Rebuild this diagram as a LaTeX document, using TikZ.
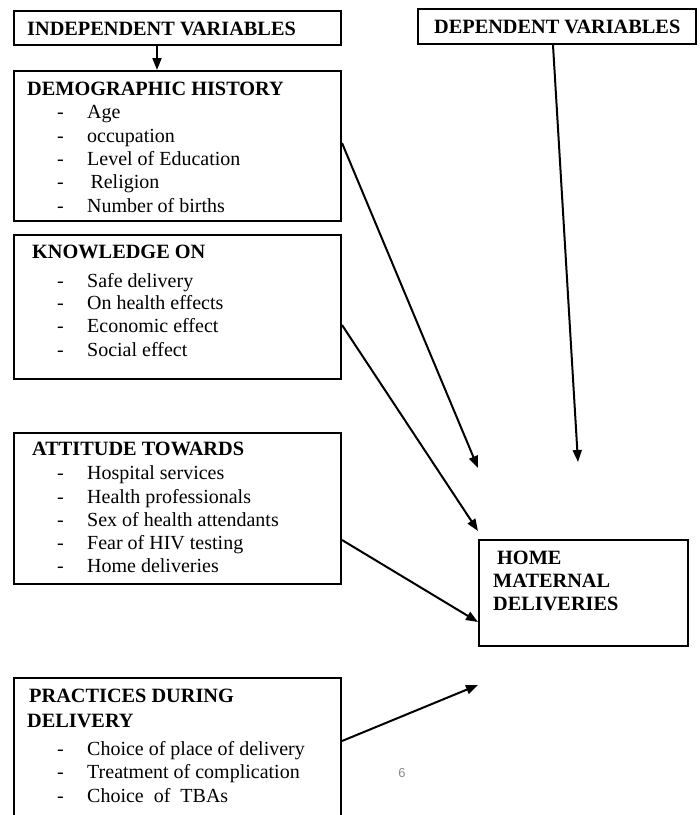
\documentclass[tikz,border=0pt]{standalone}
\usepackage{fontspec}
\setmainfont{Liberation Serif}
\newfontfamily\pnfont{Liberation Sans}
\usetikzlibrary{arrows.meta,calc}
\begin{document}
\begin{tikzpicture}[x=1pt,y=-1pt,
  box/.style={draw, line width=2pt, inner sep=0pt, anchor=north west},
  head/.style={anchor=base west, inner sep=0pt, font=\fontsize{20.3}{24}\selectfont\bfseries},
  item/.style={anchor=base west, inner sep=0pt, font=\fontsize{20}{24}\selectfont},
  arr/.style={line width=2pt, -{Triangle[length=12pt,width=9pt]}}]
\useasboundingbox (0,0) rectangle (700,815);
\clip (0,0) rectangle (700,815);
% boxes
\node[box, minimum width=327pt, minimum height=34pt] (iv) at (13,10) {};
\node[box, minimum width=278pt, minimum height=35pt] (dv) at (417,8) {};
\node[box, minimum width=327pt, minimum height=150pt] (demo) at (13,70) {};
\node[box, minimum width=327pt, minimum height=144pt] (know) at (13,234) {};
\node[box, minimum width=327pt, minimum height=151pt] (att) at (13,432) {};
\node[box, minimum width=327pt, minimum height=150pt] (prac) at (13,677) {};
\node[box, minimum width=209pt, minimum height=106pt] (home) at (478,539) {};
% headings
\node[head] (ivt) at (27,35) {INDEPENDENT VARIABLES};
\node[head] (dvt) at (434,33) {DEPENDENT VARIABLES};
\node[head] (demot) at (27,95) {DEMOGRAPHIC HISTORY};
\node[head] (knowt) at (32,258) {KNOWLEDGE ON};
\node[head] (attt) at (32,455) {ATTITUDE TOWARDS};
\node[head] (pract1) at (29,702) {PRACTICES DURING};
\node[head] (pract2) at (27,727) {DELIVERY};
\node[head] (homet1) at (497,564) {HOME};
\node[head] (homet2) at (493,587) {MATERNAL};
\node[head] (homet3) at (493,610) {DELIVERIES};
% items
\foreach \n/\y/\t in {d1/118/Age, d2/142/occupation, d3/165/Level of Education, d4/188/{\,Religion}, d5/212/Number of births,
  k1/287/Safe delivery, k2/309/On health effects, k3/332/Economic effect, k4/356/Social effect,
  a1/479/Hospital services, a2/503/Health professionals, a3/526/Sex of health attendants, a4/549/Fear of HIV testing, a5/572/Home deliveries,
  p1/755/Choice of place of delivery, p2/778/Treatment of complication, p3/802/Choice\ \ of\ \ TBAs}
  \node[item] (\n) at (57,\y) {\makebox[30pt][l]{-}\t};
% page number
\node[font=\pnfont\fontsize{13}{15}\selectfont, text=black!45, inner sep=0pt] (pg) at (402,773) {6};
% connectors
\coordinate (t1) at (578,462);
\coordinate (t2) at (478,468);
\coordinate (t3) at (478,531);
\coordinate (t4) at (478,685);
\draw[arr] ($(iv.south west)+(144,0)$) -- ($(demo.north west)+(144,0)$);
\draw[arr] ($(dv.south west)+(136,0)$) -- (t1);
\draw[arr] ($(demo.north east)+(0,73)$) -- (t2);
\draw[arr] ($(know.north east)+(0,91)$) -- (t3);
\draw[arr] ($(att.north east)+(0,108)$) -- ($(home.north west)+(0,83)$);
\draw[arr] ($(prac.north east)+(0,64)$) -- (t4);
\end{tikzpicture}
\end{document}
